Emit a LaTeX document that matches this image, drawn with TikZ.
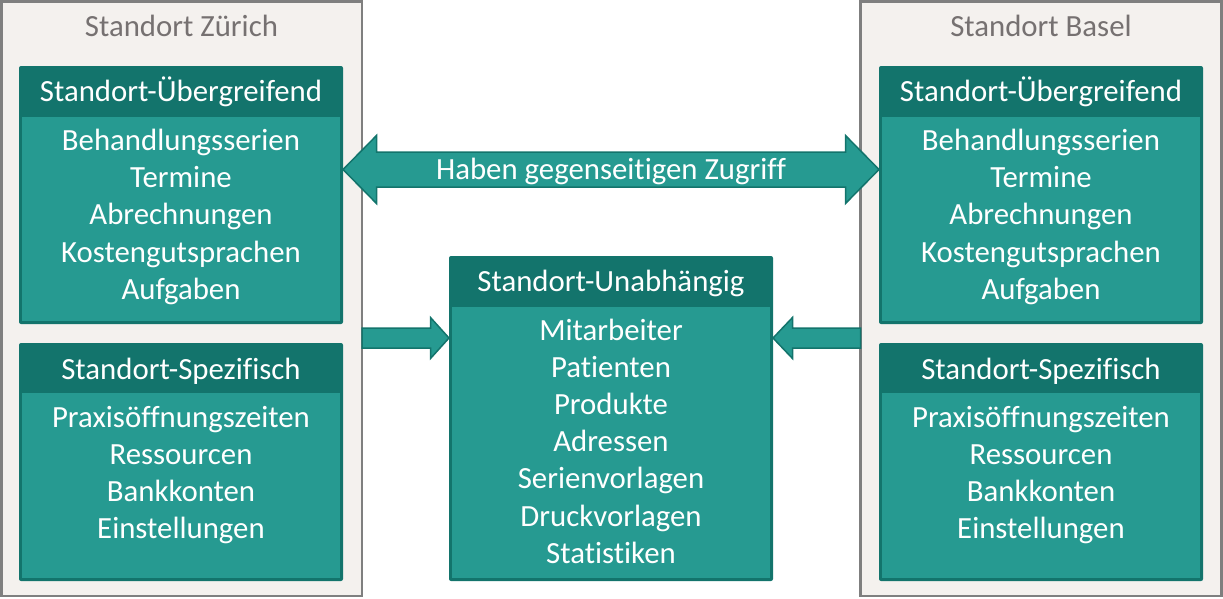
\documentclass[tikz,border=0pt]{standalone}
\usepackage{fontspec}
\setmainfont{Carlito}[Ligatures=CommonOff]
\usetikzlibrary{calc}
\definecolor{hdr}{RGB}{19,116,108}
\definecolor{bdy}{RGB}{38,154,145}
\definecolor{outfill}{RGB}{244,241,238}
\definecolor{outl}{RGB}{127,127,127}
\definecolor{ttlc}{RGB}{118,113,113}
\newcommand\fsz{\fontsize{30.8}{37}\selectfont}
\begin{document}
\begin{tikzpicture}[x=1pt,y=-1pt,
  outerbox/.style={draw=outl, fill=outfill, line width=2.6pt, outer sep=0pt, inner sep=0pt, anchor=north west},
  framebox/.style={fill=hdr, rounded corners=2pt, outer sep=0pt, inner sep=0pt, anchor=north west, minimum width=324pt},
  ttl/.style={text=ttlc, font=\fsz, anchor=base, inner sep=0pt},
  wtxt/.style={text=white, font=\fsz, anchor=base, inner sep=0pt},
  blockarrow/.style={fill=bdy, draw=hdr, line width=1.5pt, line join=miter}
]
\useasboundingbox (0,0) rectangle (1223,598);
% outer location boxes
\node[outerbox, minimum width=360.7pt, minimum height=594.7pt] (zu) at (1.3,1.3) {};
\node[outerbox, minimum width=361pt, minimum height=594.7pt] (ba) at (860.5,1.3) {};
\node[ttl] (zut) at (181.5,36.5) {Standort Zürich};
\node[ttl] (bat) at (1041,36) {Standort Basel};
% inner frames
\node[framebox, minimum height=258pt] (zu1) at (19,66) {};
\node[framebox, minimum height=238pt] (zu2) at (19,343) {};
\node[framebox, minimum height=258pt] (ba1) at (879,66) {};
\node[framebox, minimum height=238pt] (ba2) at (879,343) {};
\node[framebox, minimum height=325pt] (cen) at (449,256) {};
\foreach \n/\h in {zu1/51,zu2/50,ba1/51,ba2/50,cen/51}
  \fill[bdy] ([xshift=3pt,yshift=-\h pt]\n.north west) rectangle ([xshift=-3pt,yshift=3pt]\n.south east);
% headers
\node[wtxt] (zu1h) at ([yshift=-35.5pt]zu1.north) {Standort-Übergreifend};
\node[wtxt] (ba1h) at ([yshift=-35.5pt]ba1.north) {Standort-Übergreifend};
\node[wtxt] (zu2h) at ([yshift=-36.5pt]zu2.north) {Standort-Spezifisch};
\node[wtxt] (ba2h) at ([yshift=-36.5pt]ba2.north) {Standort-Spezifisch};
\node[wtxt] (cenh) at ([yshift=-35.5pt]cen.north) {Standort-Unabhängig};
% body lines
\foreach \t [count=\i] in {Behandlungsserien,Termine,Abrechnungen,Kostengutsprachen,Aufgaben} {
  \node[wtxt] (zu1-\i) at ([yshift={-(84.2+(\i-1)*37.3)*1pt}]zu1.north) {\t};
  \node[wtxt] (ba1-\i) at ([yshift={-(84.2+(\i-1)*37.3)*1pt}]ba1.north) {\t};
}
\foreach \t [count=\i] in {Praxisöffnungszeiten,Ressourcen,Bankkonten,Einstellungen} {
  \node[wtxt] (zu2-\i) at ([yshift={-(84.4+(\i-1)*37.1)*1pt}]zu2.north) {\t};
  \node[wtxt] (ba2-\i) at ([yshift={-(84.4+(\i-1)*37.1)*1pt}]ba2.north) {\t};
}
\foreach \t [count=\i] in {Mitarbeiter,Patienten,Produkte,Adressen,Serienvorlagen,Druckvorlagen,Statistiken} {
  \node[wtxt] (cen-\i) at ([yshift={-(84+(\i-1)*37.2)*1pt}]cen.north) {\t};
}
% double arrow
\coordinate (arrowy) at (0,169.5);
\coordinate (smally) at (0,338);
\coordinate (dl) at (zu1.east |- arrowy);
\coordinate (dr) at (ba1.west |- arrowy);
\draw[blockarrow] (dl) -- ++(33.5,-34) -- ++(0,16.5) -- ($(dr)+(-33.5,-17.5)$) -- ++(0,-16.5) -- (dr)
  -- ++(-33.5,34) -- ++(0,-16.5) -- ($(dl)+(33.5,17.5)$) -- ++(0,16.5) -- cycle;
\node[wtxt] (lab) at ($(dl)!0.5!(dr)+(0,10)$) {Haben gegenseitigen Zugriff};
% small arrows
\draw[blockarrow] ($(zu.east|-smally)+(0,-10)$) -- ($(cen.west|-smally)+(-18.5,-10)$) -- ++(0,-10.5)
  -- (cen.west|-smally) -- ++(-18.5,20.5) -- ++(0,-10.5) -- ($(zu.east|-smally)+(0,10)$) -- cycle;
\draw[blockarrow] ($(ba.west|-smally)+(0,-10)$) -- ($(cen.east|-smally)+(19.5,-10)$) -- ++(0,-10.5)
  -- (cen.east|-smally) -- ++(19.5,20.5) -- ++(0,-10.5) -- ($(ba.west|-smally)+(0,10)$) -- cycle;
\end{tikzpicture}
\end{document}
